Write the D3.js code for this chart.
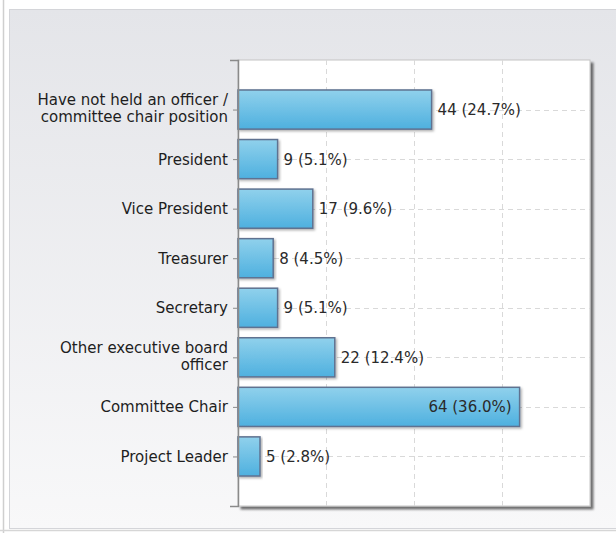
<!DOCTYPE html>
<html>
<head>
<meta charset="utf-8">
<script src="https://cdn.jsdelivr.net/npm/d3@7"></script>
<style>
  body { margin: 0; background: #ffffff; }
  svg { display: block; }
</style>
</head>
<body>
<div id="visualization"></div>
<script>

// chart data
let categories = [
  "Have not held an officer /\ncommittee chair position",
  "President",
  "Vice President",
  "Treasurer",
  "Secretary",
  "Other executive board\nofficer",
  "Committee Chair",
  "Project Leader"
];
let counts = [44, 9, 17, 8, 9, 22, 64, 5];
let percents = [24.7, 5.1, 9.6, 4.5, 5.1, 12.4, 36.0, 2.8];
let xTicks = [0, 20, 40, 60, 80];

let W = 616, H = 533;
let margin = { top: 60, right: 26, bottom: 27, left: 238 };
let width = W - margin.left - margin.right;
let height = H - margin.top - margin.bottom;
let font = "'DejaVu Sans', Verdana, sans-serif";

let rows = categories.map(function (c, i) {
  return { name: c, count: counts[i], pct: percents[i] };
});

let svg = d3.select("#visualization").append("svg")
  .attr("width", W)
  .attr("height", H);

let defs = svg.append("defs");

// panel gradient
let pg = defs.append("linearGradient").attr("id", "panelGrad")
  .attr("x1", 0).attr("y1", 0).attr("x2", 0).attr("y2", 1);
pg.append("stop").attr("offset", "0%").attr("stop-color", "#e4e5e9");
pg.append("stop").attr("offset", "100%").attr("stop-color", "#f8f8f9");

// bar gradient
let bg = defs.append("linearGradient").attr("id", "barGrad")
  .attr("x1", 0).attr("y1", 0).attr("x2", 0).attr("y2", 1);
bg.append("stop").attr("offset", "0%").attr("stop-color", "#90d1ec");
bg.append("stop").attr("offset", "100%").attr("stop-color", "#4eb0df");

// shadows
defs.append("filter").attr("id", "plotShadow")
  .attr("x", "-5%").attr("y", "-5%").attr("width", "115%").attr("height", "115%")
  .append("feDropShadow")
  .attr("dx", 3).attr("dy", 3).attr("stdDeviation", 1.3)
  .attr("flood-color", "#000").attr("flood-opacity", 0.55);

defs.append("filter").attr("id", "barShadow")
  .attr("x", "-5%").attr("y", "-20%").attr("width", "115%").attr("height", "150%")
  .append("feDropShadow")
  .attr("dx", 1.5).attr("dy", 1.5).attr("stdDeviation", 1)
  .attr("flood-color", "#000").attr("flood-opacity", 0.3);

// outer frame
svg.append("line")
  .attr("x1", 3.5).attr("x2", 3.5).attr("y1", 0).attr("y2", H)
  .attr("stroke", "#cfcfcf").attr("stroke-width", 1.5);
svg.append("rect")
  .attr("x", 9.5).attr("y", 9.5)
  .attr("width", W).attr("height", 519)
  .attr("fill", "url(#panelGrad)")
  .attr("stroke", "#d4d5d9");
svg.append("line")
  .attr("x1", 0).attr("x2", W).attr("y1", 530.5).attr("y2", 530.5)
  .attr("stroke", "#d6d6d6").attr("stroke-width", 1.5);

let g = svg.append("g")
  .attr("transform", "translate(" + margin.left + "," + margin.top + ")");

// scales
let x = d3.scaleLinear()
  .domain([xTicks[0], xTicks[xTicks.length - 1]])
  .range([0, width]);

let y = d3.scalePoint()
  .domain(categories)
  .range([0, height])
  .padding(1);

let barH = y.step() * 0.79;

// plot background
g.append("rect")
  .attr("width", width).attr("height", height)
  .attr("fill", "#ffffff")
  .attr("stroke", "#c4c4c4")
  .attr("filter", "url(#plotShadow)");

// vertical grid
g.selectAll(".vgrid")
  .data(xTicks.slice(1, -1))
  .enter().append("line")
  .attr("class", "vgrid")
  .attr("x1", function (d) { return Math.round(x(d)) + 0.5; })
  .attr("x2", function (d) { return Math.round(x(d)) + 0.5; })
  .attr("y1", 0).attr("y2", height)
  .attr("stroke", "#d9d9d9")
  .attr("stroke-dasharray", "5,4");

// horizontal grid
g.selectAll(".hgrid")
  .data(categories)
  .enter().append("line")
  .attr("class", "hgrid")
  .attr("x1", 0).attr("x2", width)
  .attr("y1", function (d) { return Math.round(y(d)) + 0.5; })
  .attr("y2", function (d) { return Math.round(y(d)) + 0.5; })
  .attr("stroke", "#d9d9d9")
  .attr("stroke-dasharray", "5,4");

// bars
g.selectAll(".bar")
  .data(rows)
  .enter().append("rect")
  .attr("class", "bar")
  .attr("x", 0)
  .attr("y", function (d) { return y(d.name) - barH / 2; })
  .attr("width", function (d) { return x(d.count); })
  .attr("height", barH)
  .attr("fill", "url(#barGrad)")
  .attr("stroke", "#5f7290")
  .attr("stroke-width", 1.5)
  .attr("filter", "url(#barShadow)");

// value labels
let labels = g.selectAll(".val")
  .data(rows)
  .enter().append("text")
  .attr("class", "val")
  .attr("y", function (d) { return y(d.name); })
  .attr("dy", "0.36em")
  .style("font-family", font)
  .style("font-size", "15px")
  .attr("fill", "#2a2a2a")
  .text(function (d) { return d.count + " (" + d.pct.toFixed(1) + "%)"; });

labels.each(function (d) {
  let t = d3.select(this);
  let w = this.getComputedTextLength();
  let end = x(d.count);
  if (end + 6 + w > width) {
    t.attr("x", end - 8).attr("text-anchor", "end");
  } else {
    t.attr("x", end + 6).attr("text-anchor", "start");
  }
});

// left axis
let yAxis = g.append("g")
  .call(d3.axisLeft(y).tickSize(5).tickSizeOuter(8).tickFormat(""));
yAxis.select(".domain").attr("stroke", "#8a8a8a").attr("stroke-width", 1.5);
yAxis.selectAll(".tick line").attr("stroke", "#8a8a8a");

// category labels (multi-line)
let lineH = 17.4;
categories.forEach(function (c) {
  let lines = c.split("\n");
  let t = g.append("text")
    .attr("text-anchor", "end")
    .style("font-family", font)
    .style("font-size", "15px")
    .attr("fill", "#1e1e1e");
  let y0 = y(c) - (lines.length - 1) * lineH / 2 - (lines.length > 1 ? 1.5 : 0);
  lines.forEach(function (l, i) {
    t.append("tspan")
      .attr("x", -10)
      .attr("y", y0 + i * lineH)
      .attr("dy", "0.36em")
      .text(l);
  });
});

</script>
</body>
</html>
